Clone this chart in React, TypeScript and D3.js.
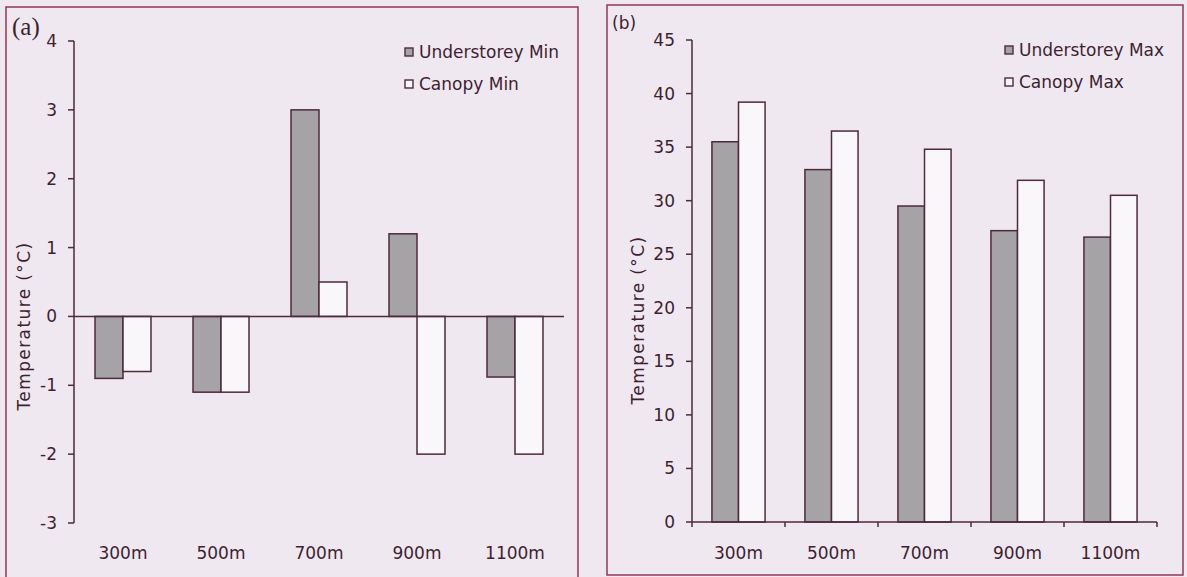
import * as d3 from "d3";

// elevation classes shared by both panels
const categories = ["300m", "500m", "700m", "900m", "1100m"];

// panel (a) minimum temperatures
const understoreyMin = [-0.9, -1.1, 3.0, 1.2, -0.88];
const canopyMin = [-0.8, -1.1, 0.5, -2.0, -2.0];
const minTicks = [-3, -2, -1, 0, 1, 2, 3, 4];

// panel (b) maximum temperatures
const understoreyMax = [35.5, 32.9, 29.5, 27.2, 26.6];
const canopyMax = [39.2, 36.5, 34.8, 31.9, 30.5];
const maxTicks = [0, 5, 10, 15, 20, 25, 30, 35, 40, 45];

const W = 1187;
const H = 577;
const BG = "#f0e8f0";
const INK = "#3d1f30";
const AXIS = "#4e2a3c";
const FRAME = "#8a2c4c";
const GREY = "#a5a3a6";
const WHITE = "#faf7fa";
const FONT = "'DejaVu Sans', Verdana, sans-serif";

interface PanelProps {
  tag: string;
  tagFont: string;
  tagSize: number;
  tagX: number;
  tagY: number;
  frame: [number, number, number, number];
  xRange: [number, number];
  yRange: [number, number];
  yDomain: [number, number];
  ticks: number[];
  series: { name: string; values: number[]; fill: string }[];
  labelX: number;
  labelY: number;
  legendX: number;
  legendY: number;
  xTicks: boolean;
}

function Panel(p: PanelProps) {
  const x = d3.scaleBand<string>().domain(categories).range(p.xRange);
  const sub = d3.scaleBand<string>()
    .domain(p.series.map(s => s.name))
    .range([0, x.bandwidth()])
    .paddingInner(0)
    .paddingOuter(0.75);
  const y = d3.scaleLinear().domain(p.yDomain).range(p.yRange);
  const y0 = y(Math.max(0, p.yDomain[0]));
  const [fx, fy, fw, fh] = p.frame;

  return (
    <g>
      <rect x={fx} y={fy} width={fw} height={fh} fill="none" stroke={FRAME} strokeWidth={1.4} />
      <text x={p.tagX} y={p.tagY} fontFamily={p.tagFont} fontSize={p.tagSize} fill={INK}>{p.tag}</text>

      {/* bars */}
      {p.series.map(s => (
        <g key={s.name}>
          {s.values.map((v, i) => {
            const top = Math.min(y(v), y0);
            return (
              <rect
                key={i}
                x={(x(categories[i]) ?? 0) + (sub(s.name) ?? 0)}
                y={top}
                width={sub.bandwidth()}
                height={Math.abs(y(v) - y0)}
                fill={s.fill}
                stroke={AXIS}
                strokeWidth={1.5}
              />
            );
          })}
        </g>
      ))}

      {/* y axis */}
      <line x1={p.xRange[0]} x2={p.xRange[0]} y1={p.yRange[1]} y2={p.yRange[0]} stroke={AXIS} strokeWidth={1.5} />
      {p.ticks.map(t => (
        <g key={t}>
          <line x1={p.xRange[0] - 6} x2={p.xRange[0]} y1={y(t)} y2={y(t)} stroke={AXIS} strokeWidth={1.5} />
          <text x={p.xRange[0] - 17} y={y(t) + 6} textAnchor="end" fontFamily={FONT} fontSize={17} fill={INK}>{t}</text>
        </g>
      ))}

      {/* x axis */}
      <line x1={p.xRange[0]} x2={p.xRange[1]} y1={y0} y2={y0} stroke={AXIS} strokeWidth={1.5} />
      {p.xTicks && [...categories.map(c => x(c) ?? 0), p.xRange[1]].map((tx, i) => (
        <line key={i} x1={tx} x2={tx} y1={y0} y2={y0 + 5} stroke={AXIS} strokeWidth={1.5} />
      ))}
      {categories.map(c => (
        <text key={c} x={(x(c) ?? 0) + x.bandwidth() / 2} y={559} textAnchor="middle" fontFamily={FONT} fontSize={17} fill={INK}>{c}</text>
      ))}

      <text
        transform={`translate(${p.labelX},${p.labelY}) rotate(-90)`}
        textAnchor="middle"
        fontFamily={FONT}
        fontSize={17}
        letterSpacing={1.4}
        fill={INK}
      >Temperature (°C)</text>

      {/* legend */}
      {p.series.map((s, i) => (
        <g key={s.name} transform={`translate(${p.legendX},${p.legendY + i * 32})`}>
          <rect x={0} y={-4} width={8} height={8} fill={s.fill} stroke={AXIS} strokeWidth={1.4} />
          <text x={14} y={6} fontFamily={FONT} fontSize={17} fill={INK}>{s.name}</text>
        </g>
      ))}
    </g>
  );
}

export default function App() {
  return (
    <svg width={W} height={H} style={{ position: "absolute", left: 0, top: 0, background: BG }}>
      <rect x={0} y={0} width={W} height={H} fill={BG} />
      <Panel
        tag="(a)"
        tagFont="'Liberation Serif', 'Times New Roman', serif"
        tagSize={25}
        tagX={12}
        tagY={35}
        frame={[6, 7, 572, 580]}
        xRange={[74, 564]}
        yRange={[523, 41]}
        yDomain={[-3, 4]}
        ticks={minTicks}
        series={[
          { name: "Understorey Min", values: understoreyMin, fill: GREY },
          { name: "Canopy Min", values: canopyMin, fill: WHITE },
        ]}
        labelX={30}
        labelY={326}
        legendX={405}
        legendY={52}
        xTicks={false}
      />
      <Panel
        tag="(b)"
        tagFont={FONT}
        tagSize={17}
        tagX={612}
        tagY={29}
        frame={[607, 5, 576, 570]}
        xRange={[692, 1157]}
        yRange={[522, 40]}
        yDomain={[0, 45]}
        ticks={maxTicks}
        series={[
          { name: "Understorey Max", values: understoreyMax, fill: GREY },
          { name: "Canopy Max", values: canopyMax, fill: WHITE },
        ]}
        labelX={644}
        labelY={320}
        legendX={1005}
        legendY={50}
        xTicks={true}
      />
    </svg>
  );
}
